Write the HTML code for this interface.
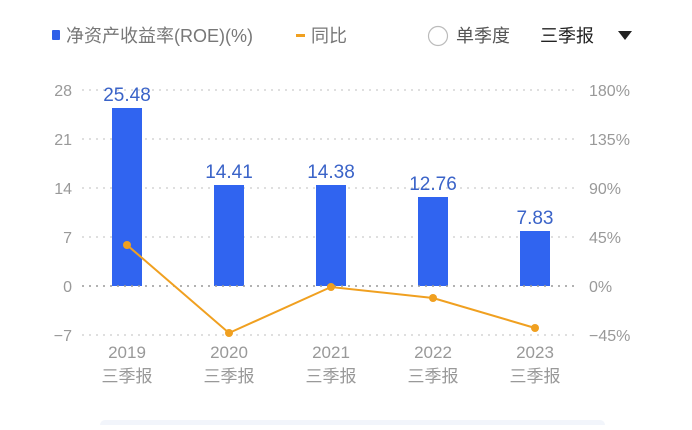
<!DOCTYPE html>
<html><head><meta charset="utf-8"><style>
body{margin:0;background:#fff;width:692px;height:425px;overflow:hidden;font-family:"Liberation Sans","Noto Sans CJK SC",sans-serif}
</style></head><body>
<svg width="692" height="425" xmlns="http://www.w3.org/2000/svg" font-family="Liberation Sans, Noto Sans CJK SC, sans-serif">
<rect x="52" y="30" width="8" height="10" rx="1" fill="#2f5fe8"/>
<text x="66" y="42" font-size="18" fill="#777">净资产收益率(ROE)(%)</text>
<rect x="296" y="34" width="9" height="3" fill="#f0a020"/>
<text x="311" y="42" font-size="18" fill="#777">同比</text>
<circle cx="438" cy="36" r="9.5" fill="none" stroke="#bbb" stroke-width="1.2"/>
<text x="456" y="42" font-size="18" fill="#555">单季度</text>
<text x="540" y="42" font-size="18" fill="#222">三季报</text>
<polygon points="618,31 632,31 625,40" fill="#222"/>
<g stroke="#ccc" stroke-dasharray="2,5" stroke-width="1.2">
<line x1="82" y1="90" x2="578" y2="90"/><line x1="82" y1="139" x2="578" y2="139"/>
<line x1="82" y1="188" x2="578" y2="188"/><line x1="82" y1="237" x2="578" y2="237"/>
<line x1="82" y1="335" x2="578" y2="335"/>
</g>
<g fill="#3064f0">
<rect x="112" y="108" width="30" height="178"/>
<rect x="214" y="185" width="30" height="101"/>
<rect x="316" y="185" width="30" height="101"/>
<rect x="418" y="197" width="30" height="89"/>
<rect x="520" y="231" width="30" height="55"/>
</g>
<line x1="82" y1="286" x2="578" y2="286" stroke="#999" stroke-dasharray="2,5" stroke-width="1.5"/>
<g font-size="19" fill="#3a63c8" text-anchor="middle">
<text x="127" y="101">25.48</text><text x="229" y="178">14.41</text><text x="331" y="178">14.38</text>
<text x="433" y="190">12.76</text><text x="535" y="224">7.83</text></g>
<polyline points="127,245 229,333 331,287 433,298 535,328" fill="none" stroke="#f0a020" stroke-width="2"/>
<g fill="#f0a020"><circle cx="127" cy="245" r="4"/><circle cx="229" cy="333" r="4"/><circle cx="331" cy="287" r="4"/><circle cx="433" cy="298" r="4"/><circle cx="535" cy="328" r="4"/></g>
<g font-size="16" fill="#999" text-anchor="end">
<text x="72" y="96">28</text><text x="72" y="145">21</text><text x="72" y="194">14</text><text x="72" y="243">7</text><text x="72" y="292">0</text><text x="72" y="341">−7</text></g>
<g font-size="16" fill="#999" text-anchor="start">
<text x="589" y="96">180%</text><text x="589" y="145">135%</text><text x="589" y="194">90%</text><text x="589" y="243">45%</text><text x="589" y="292">0%</text><text x="589" y="341">−45%</text></g>
<g font-size="17" fill="#999" text-anchor="middle">
<text x="127" y="358">2019</text><text x="229" y="358">2020</text><text x="331" y="358">2021</text><text x="433" y="358">2022</text><text x="535" y="358">2023</text>
<text x="127" y="382">三季报</text><text x="229" y="382">三季报</text><text x="331" y="382">三季报</text><text x="433" y="382">三季报</text><text x="535" y="382">三季报</text></g>
<rect x="100" y="420" width="505" height="10" rx="5" fill="#f2f5fb"/>
</svg>
</body></html>
